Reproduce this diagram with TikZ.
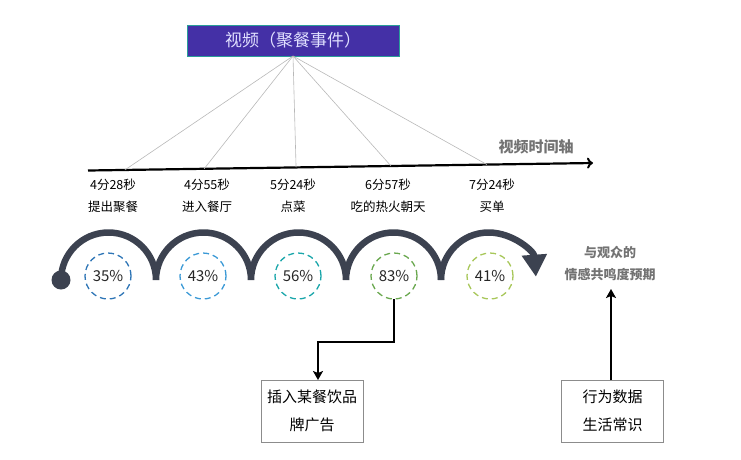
\documentclass[tikz,border=0pt]{standalone}
\usepackage{fontspec}
\setmainfont{Noto Sans CJK SC}
\usepackage{tikz}
\usetikzlibrary{arrows.meta}
\usetikzlibrary{calc}

\begin{document}
\begin{tikzpicture}[x=1pt, y=-1pt,
    %Option for nice arrows
    >=Stealth, %
    inner sep=0pt, outer sep=0pt,%
    fan/.style={color=black!28, line width=0.6pt},
    timelabel/.style={align=center, font=\fontsize{12.5}{22}\selectfont},
    pct/.style={circle, draw=#1, dashed, dash pattern=on 6pt off 4pt, line width=1.3pt,
        minimum size=46pt, font=\fontsize{15}{15}\selectfont, text=black!85},
    loop/.style={color=arcgray, line width=6.5pt},
    infobox/.style={draw=black!45, line width=0.8pt, minimum width=102pt, minimum height=62pt,
        align=center, font=\fontsize{15}{28}\selectfont},
    link/.style={line width=2.4pt, -{Stealth[length=9pt,width=10pt,inset=2pt]}},
]
    % Colors
    \definecolor{boxpurple}{HTML}{4430A6}
    \definecolor{boxteal}{HTML}{2A9D9A}
    \definecolor{arcgray}{HTML}{3C4250}
    \definecolor{ringA}{HTML}{2E75B6}
    \definecolor{ringB}{HTML}{3C9AD6}
    \definecolor{ringC}{HTML}{1AA6AA}
    \definecolor{ringD}{HTML}{6AA84F}
    \definecolor{ringE}{HTML}{A8C75A}

    \useasboundingbox (0,0) rectangle (741,459);

    % Video box
    \node[fill=boxpurple, draw=boxteal, line width=1pt, minimum width=212pt, minimum height=31pt,
        text=white!88!blue, font=\fontsize{17}{17}\selectfont] (video) at (293,40.5) {视频（聚餐事件）};

    % Time axis
    \coordinate (axisL) at (88,170.5);
    \coordinate (axisR) at (593,163);
    \draw[line width=2.2pt, -{To[length=6pt,width=11pt,line width=2pt]}] (axisL) -- (axisR);
    \node[text=black!55, font=\fontsize{15}{15}\selectfont\bfseries] (axislabel) at (536,147) {视频时间轴};

    % Moments on the axis
    \foreach \f/\x/\t/\e [count=\i] in {0.073/113/4分28秒/提出聚餐, 0.23/207/4分55秒/进入餐厅,
            0.412/293/5分24秒/点菜, 0.6/388/6分57秒/吃的热火朝天, 0.79/492/7分24秒/买单} {
        \coordinate (a\i) at ($(axisL)!\f!(axisR)$);
        \draw[fan] (video.south) -- (a\i);
        \node[timelabel] (t\i) at (\x,196) {\t\\\e};
    }

    % Loops of the viewing path
    \fill[arcgray] (61,280) circle[radius=9.5pt];
    \draw[loop] (61,280) arc[start angle=180, end angle=0, radius=47.5pt]
        arc[start angle=180, end angle=0, radius=47.5pt]
        arc[start angle=180, end angle=0, radius=47.5pt]
        arc[start angle=180, end angle=0, radius=47.5pt];
    \draw[loop, -{Triangle[length=22pt,width=24pt]}] (441,280)
        arc[start angle=180, end angle=4, radius=47.5pt];

    % Resonance rates
    \foreach \cx/\val/\col [count=\i] in {108/35/ringA, 203/43/ringB, 298/56/ringC,
            394/83/ringD, 490/41/ringE}
        \node[pct=\col] (p\i) at (\cx,276) {\val\%};

    \node[text=black!55, align=center, font=\fontsize{13}{22}\selectfont\bfseries] (expect)
        at (610,264) {与观众的\\情感共鸣度预期};

    % Sources
    \node[infobox] (ad) at (312,411) {插入某餐饮品\\牌广告};
    \node[infobox] (data) at (612.5,411) {行为数据\\生活常识};

    \draw[link] (p4.south) -- ++(0,43) -| ([xshift=6pt]ad.north);
    \draw[link] ([xshift=-1.5pt]data.north) -- ++(0,-91);
\end{tikzpicture}
\end{document}
